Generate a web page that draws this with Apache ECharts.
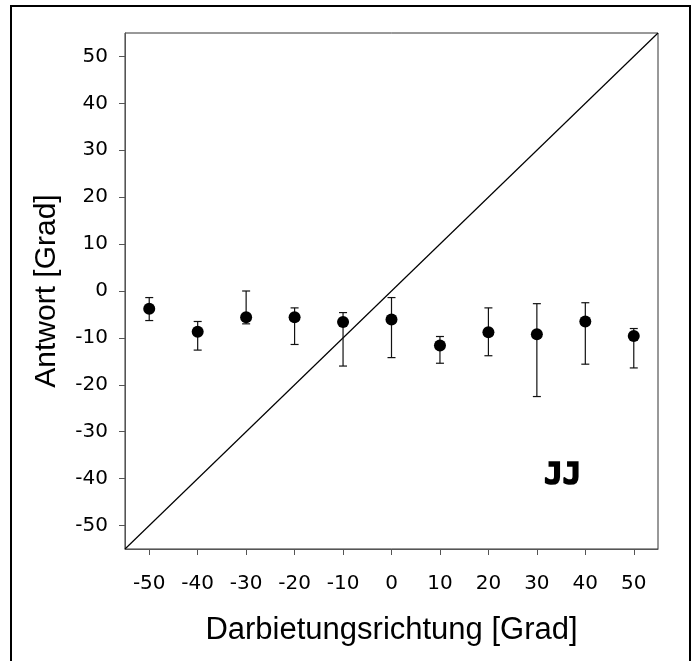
<!DOCTYPE html>
<html>
<head>
<meta charset="utf-8">
<script src="https://cdn.jsdelivr.net/npm/echarts@6/dist/echarts.min.js"></script>
<style>
html,body{margin:0;padding:0;background:#fff;}
#chart{width:696px;height:661px;}
</style>
</head>
<body>
<div id="chart"></div>
<script>
// Data
const directions = [-50, -40, -30, -20, -10, 0, 10, 20, 30, 40, 50];
const means      = [-3.8, -8.7, -5.6, -5.6, -6.6, -6.1, -11.6, -8.8, -9.2, -6.5, -9.6];
const upperVals  = [-1.4, -6.5, 0.0, -3.6, -4.6, -1.4, -9.7, -3.6, -2.7, -2.5, -8.0];
const lowerVals  = [-6.3, -12.6, -7.0, -11.4, -16.0, -14.2, -15.4, -13.8, -22.5, -15.6, -16.4];
const xTicks = [-50, -40, -30, -20, -10, 0, 10, 20, 30, 40, 50];
const yTicks = [-50, -40, -30, -20, -10, 0, 10, 20, 30, 40, 50];
const axisRange = [-55, 55];
const identityLine = [[-55, -55], [55, 55]];
const panelLabel = {text: 'JJ', x: 35.3, y: -39.5};

const chart = echarts.init(document.getElementById('chart'));

const pointData = directions.map((d, i) => [d, means[i]]);
const errData = directions.map((d, i) => [d, lowerVals[i], upperVals[i]]);

const tickFont = {fontFamily: 'DejaVu Sans', fontSize: 20, color: '#000'};

chart.setOption({
  animation: false,
  backgroundColor: '#fff',
  graphic: [{
    type: 'rect',
    shape: {x: 11, y: 6, width: 679, height: 670},
    style: {fill: 'none', stroke: '#000', lineWidth: 2},
    z: 0
  }],
  grid: {left: 125, top: 33, right: 38, bottom: 112, show: true, borderColor: '#333', borderWidth: 1, backgroundColor: 'transparent'},
  xAxis: {
    type: 'value', min: axisRange[0], max: axisRange[1],
    splitLine: {show: false},
    axisLine: {show: true, onZero: false, lineStyle: {color: '#555', width: 1}},
    axisTick: {show: true, inside: false, length: 6, lineStyle: {color: '#555'}, customValues: xTicks},
    axisLabel: Object.assign({margin: 25, customValues: xTicks, formatter: v => String(v)}, tickFont),
    name: 'Darbietungsrichtung [Grad]', nameLocation: 'middle', nameGap: 66,
    nameTextStyle: {fontFamily: 'Liberation Sans', fontSize: 31, color: '#000'}
  },
  yAxis: {
    type: 'value', min: axisRange[0], max: axisRange[1],
    splitLine: {show: false},
    axisLine: {show: true, onZero: false, lineStyle: {color: '#555', width: 1}},
    axisTick: {show: true, inside: false, length: 6, lineStyle: {color: '#555'}, customValues: yTicks},
    axisLabel: Object.assign({margin: 17, customValues: yTicks, formatter: v => String(v)}, tickFont),
    name: 'Antwort [Grad]', nameLocation: 'middle', nameGap: 63, nameRotate: 90,
    nameTextStyle: {fontFamily: 'Liberation Sans', fontSize: 30, color: '#000'}
  },
  series: [
    {
      type: 'line', data: identityLine, symbol: 'none',
      lineStyle: {color: '#000', width: 1.2}, z: 2, silent: true
    },
    {
      type: 'custom', data: errData, z: 3,
      renderItem: function (params, api) {
        const x = api.value(0);
        const lo = api.coord([x, api.value(1)]);
        const hi = api.coord([x, api.value(2)]);
        const hw = 4;
        const st = {stroke: '#111', lineWidth: 1.2};
        return {type: 'group', children: [
          {type: 'line', shape: {x1: lo[0], y1: lo[1], x2: hi[0], y2: hi[1]}, style: st},
          {type: 'line', shape: {x1: lo[0]-hw, y1: lo[1], x2: lo[0]+hw, y2: lo[1]}, style: st},
          {type: 'line', shape: {x1: hi[0]-hw, y1: hi[1], x2: hi[0]+hw, y2: hi[1]}, style: st}
        ]};
      }
    },
    {
      type: 'scatter', data: pointData, symbol: 'circle', symbolSize: 12,
      itemStyle: {color: '#000', opacity: 1}, z: 4
    },
    {
      type: 'scatter', data: [[panelLabel.x, panelLabel.y]], symbolSize: 0, z: 5,
      itemStyle: {opacity: 1},
      label: {show: true, position: 'inside', formatter: panelLabel.text, opacity: 1,
        fontFamily: 'DejaVu Sans Mono', fontWeight: 'bold', fontSize: 31, color: '#000',
        textBorderColor: '#000', textBorderWidth: 1.6}
    }
  ]
});
</script>
</body>
</html>
